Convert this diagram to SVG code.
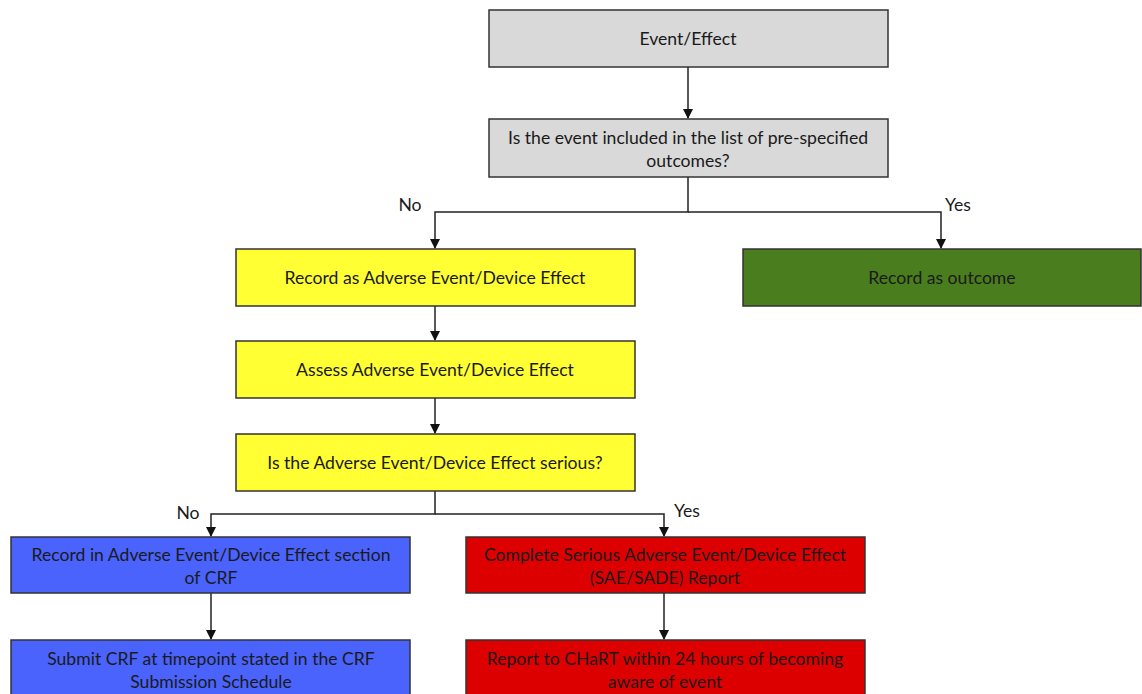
<svg xmlns="http://www.w3.org/2000/svg" width="1142" height="694" viewBox="0 0 1142 694">
<style>
.box{stroke:#333;stroke-width:1.5}
.gray{fill:#d9d9d9}
.yellow{fill:#ffff33}
.green{fill:#4a7d1e}
.blue{fill:#4a63fc}
.red{fill:#dd0000}
text{font-family:Lato,"Liberation Sans",sans-serif;font-size:17.6px;fill:#1a1a1a;text-anchor:middle}
.c{fill:none;stroke:#222;stroke-width:1.5}
</style>
<defs>
<marker id="ah" markerWidth="10" markerHeight="10" refX="9" refY="5" orient="auto" markerUnits="userSpaceOnUse">
<path d="M0,0 L10,5 L0,10 z" fill="#111"/>
</marker>
</defs>
<rect width="1142" height="694" fill="#fff"/>
<g id="connectors">
<path class="c" d="M688,67 V118" marker-end="url(#ah)"/>
<path class="c" d="M688,177 V212 H435 V248" marker-end="url(#ah)"/>
<path class="c" d="M688,212 H941 V248" marker-end="url(#ah)"/>
<path class="c" d="M435,306 V340" marker-end="url(#ah)"/>
<path class="c" d="M435,398 V433" marker-end="url(#ah)"/>
<path class="c" d="M435,491 V514 H211 V536" marker-end="url(#ah)"/>
<path class="c" d="M435,514 H664 V536" marker-end="url(#ah)"/>
<path class="c" d="M211,593 V639" marker-end="url(#ah)"/>
<path class="c" d="M664,593 V639" marker-end="url(#ah)"/>
<text x="410" y="211">No</text>
<text x="958" y="211">Yes</text>
<text x="188" y="519">No</text>
<text x="687" y="517">Yes</text>
</g>
<g id="n1"><rect class="box gray" x="489" y="10" width="399" height="57"/><text x="688" y="45">Event/Effect</text></g>
<g id="n2"><rect class="box gray" x="489" y="119" width="399" height="58"/><text x="688" y="144">Is the event included in the list of pre-specified</text><text x="688" y="167">outcomes?</text></g>
<g id="n3"><rect class="box yellow" x="236" y="249" width="399" height="57"/><text x="435" y="284">Record as Adverse Event/Device Effect</text></g>
<g id="n4"><rect class="box green" x="743" y="249" width="398" height="57"/><text x="942" y="284">Record as outcome</text></g>
<g id="n5"><rect class="box yellow" x="236" y="341" width="399" height="57"/><text x="435" y="376">Assess Adverse Event/Device Effect</text></g>
<g id="n6"><rect class="box yellow" x="236" y="434" width="399" height="57"/><text x="435" y="469">Is the Adverse Event/Device Effect serious?</text></g>
<g id="n7"><rect class="box blue" x="11" y="537" width="399" height="56"/><text x="211" y="561">Record in Adverse Event/Device Effect section</text><text x="211" y="584">of CRF</text></g>
<g id="n8"><rect class="box red" x="466" y="537" width="399" height="56"/><text x="665" y="561">Complete Serious Adverse Event/Device Effect</text><text x="665" y="584">(SAE/SADE) Report</text></g>
<g id="n9"><rect class="box blue" x="11" y="640" width="399" height="60"/><text x="211" y="665">Submit CRF at timepoint stated in the CRF</text><text x="211" y="688">Submission Schedule</text></g>
<g id="n10"><rect class="box red" x="466" y="640" width="399" height="60"/><text x="665" y="665">Report to CHaRT within 24 hours of becoming</text><text x="665" y="688">aware of event</text></g>
</svg>
